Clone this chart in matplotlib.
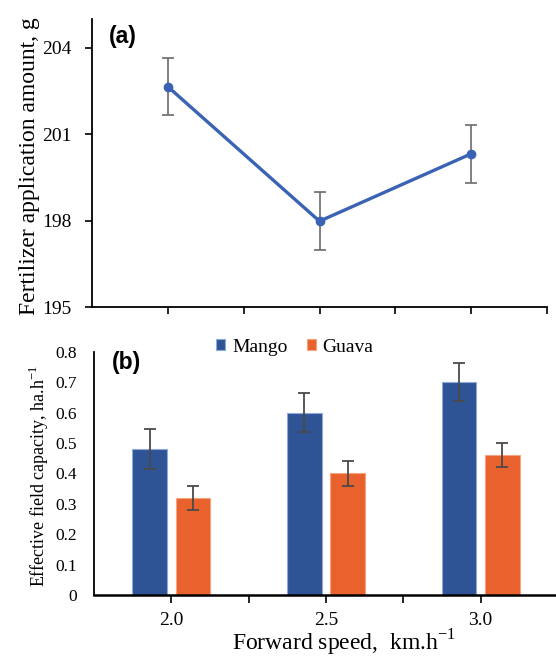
import numpy as np
import matplotlib.pyplot as plt

plt.rcParams['font.family'] = ['Liberation Serif', 'DejaVu Serif']
plt.rcParams['mathtext.fontset'] = 'custom'
plt.rcParams['mathtext.rm'] = 'Liberation Serif'

# (a) fertilizer application amount
speeds = ["2.0", "2.5", "3.0"]
fert_amount = [202.65, 197.98, 200.32]
fert_err = [1.0, 1.0, 1.0]

# (b) effective field capacity
mango = [0.48, 0.60, 0.70]
mango_err = [0.065, 0.065, 0.063]
guava = [0.32, 0.40, 0.46]
guava_err = [0.04, 0.04, 0.04]

fig = plt.figure(figsize=(5.56, 6.6), dpi=100)

# ---- panel (a)
ax1 = fig.add_axes([0.1655, 0.5348, 0.8183, 0.4364])
x = np.arange(len(speeds))
ax1.errorbar(x, fert_amount, yerr=fert_err, fmt="none", ecolor="#6b6b6b",
             elinewidth=1.2, capsize=4, capthick=1.2, zorder=2)
ax1.plot(x, fert_amount, color="#3A63B3", linewidth=2.4, marker="o",
         markersize=6, zorder=3)
ax1.set_xlim(-0.5, 2.5)
ax1.set_ylim(195, 205)
ax1.set_yticks([195, 198, 201, 204])
ax1.set_xticks(np.arange(0, 2.51, 0.5))
ax1.set_xticklabels([])
ax1.tick_params(axis="y", direction="out", length=5, width=1.2, pad=10, labelsize=14)
ax1.tick_params(axis="x", direction="out", length=5, width=1.2)
for s in ["top", "right"]:
    ax1.spines[s].set_visible(False)
for s in ["left", "bottom"]:
    ax1.spines[s].set_linewidth(1.3)
ax1.set_ylabel("Fertilizer application amount, g", fontsize=17)
ax1.yaxis.set_label_coords(-0.115, 0.49)
ax1.text(0.038, 0.94, "(a)", transform=ax1.transAxes, fontsize=16.5,
         fontweight="bold", family="Liberation Sans", va="center", ha="left")

# ---- panel (b)
ax2 = fig.add_axes([0.169, 0.0985, 0.8346, 0.3682])
w = 0.223
off = 0.14
ax2.bar(x - off, mango, width=w, color="#2F5495", edgecolor="#8EA9DB",
        linewidth=0.8, label="Mango", zorder=2)
ax2.bar(x + off, guava, width=w, color="#E9612C", edgecolor="#F4A57F",
        linewidth=0.8, label="Guava", zorder=2)
ax2.errorbar(x - off, mango, yerr=mango_err, fmt="none", ecolor="#4a4a4a",
             elinewidth=1.3, capsize=4, capthick=1.3, zorder=3)
ax2.errorbar(x + off, guava, yerr=guava_err, fmt="none", ecolor="#4a4a4a",
             elinewidth=1.3, capsize=4, capthick=1.3, zorder=3)
ax2.set_xlim(-0.5, 2.5)
ax2.set_ylim(0, 0.8)
ax2.set_yticks(np.arange(0, 0.81, 0.1))
ax2.set_yticklabels(["0"] + [f"{v:.1f}" for v in np.arange(0.1, 0.81, 0.1)])
ax2.set_xticks(np.arange(0, 2.51, 0.5))
ax2.set_xticklabels([speeds[0], "", speeds[1], "", speeds[2], ""])
ax2.tick_params(axis="y", length=0, pad=12, labelsize=12.5)
ax2.tick_params(axis="x", direction="out", length=6, width=1.2, pad=6, labelsize=14)
for s in ["top", "right"]:
    ax2.spines[s].set_visible(False)
ax2.spines["left"].set_linewidth(1.3)
ax2.spines["bottom"].set_linewidth(1.8)
ax2.set_ylabel("Effective field capacity, ha.h$^{\\mathrm{-1}}$", fontsize=13)
ax2.yaxis.set_label_coords(-0.092, 0.49)
ax2.set_xlabel("Forward speed,  km.h$^{\\mathrm{-1}}$", fontsize=17)
ax2.xaxis.set_label_coords(0.54, -0.26)
ax2.xaxis.label.set_va("bottom")
ax2.text(0.038, 0.955, "(b)", transform=ax2.transAxes, fontsize=16.5,
         fontweight="bold", family="Liberation Sans", va="center", ha="left")
ax2.legend(loc="center", bbox_to_anchor=(0.433, 1.02), ncol=2, frameon=False,
           fontsize=14, handlelength=0.45, handleheight=0.45, handletextpad=0.35,
           columnspacing=1.0, borderaxespad=0)

fig.savefig("out.png", dpi=100)
